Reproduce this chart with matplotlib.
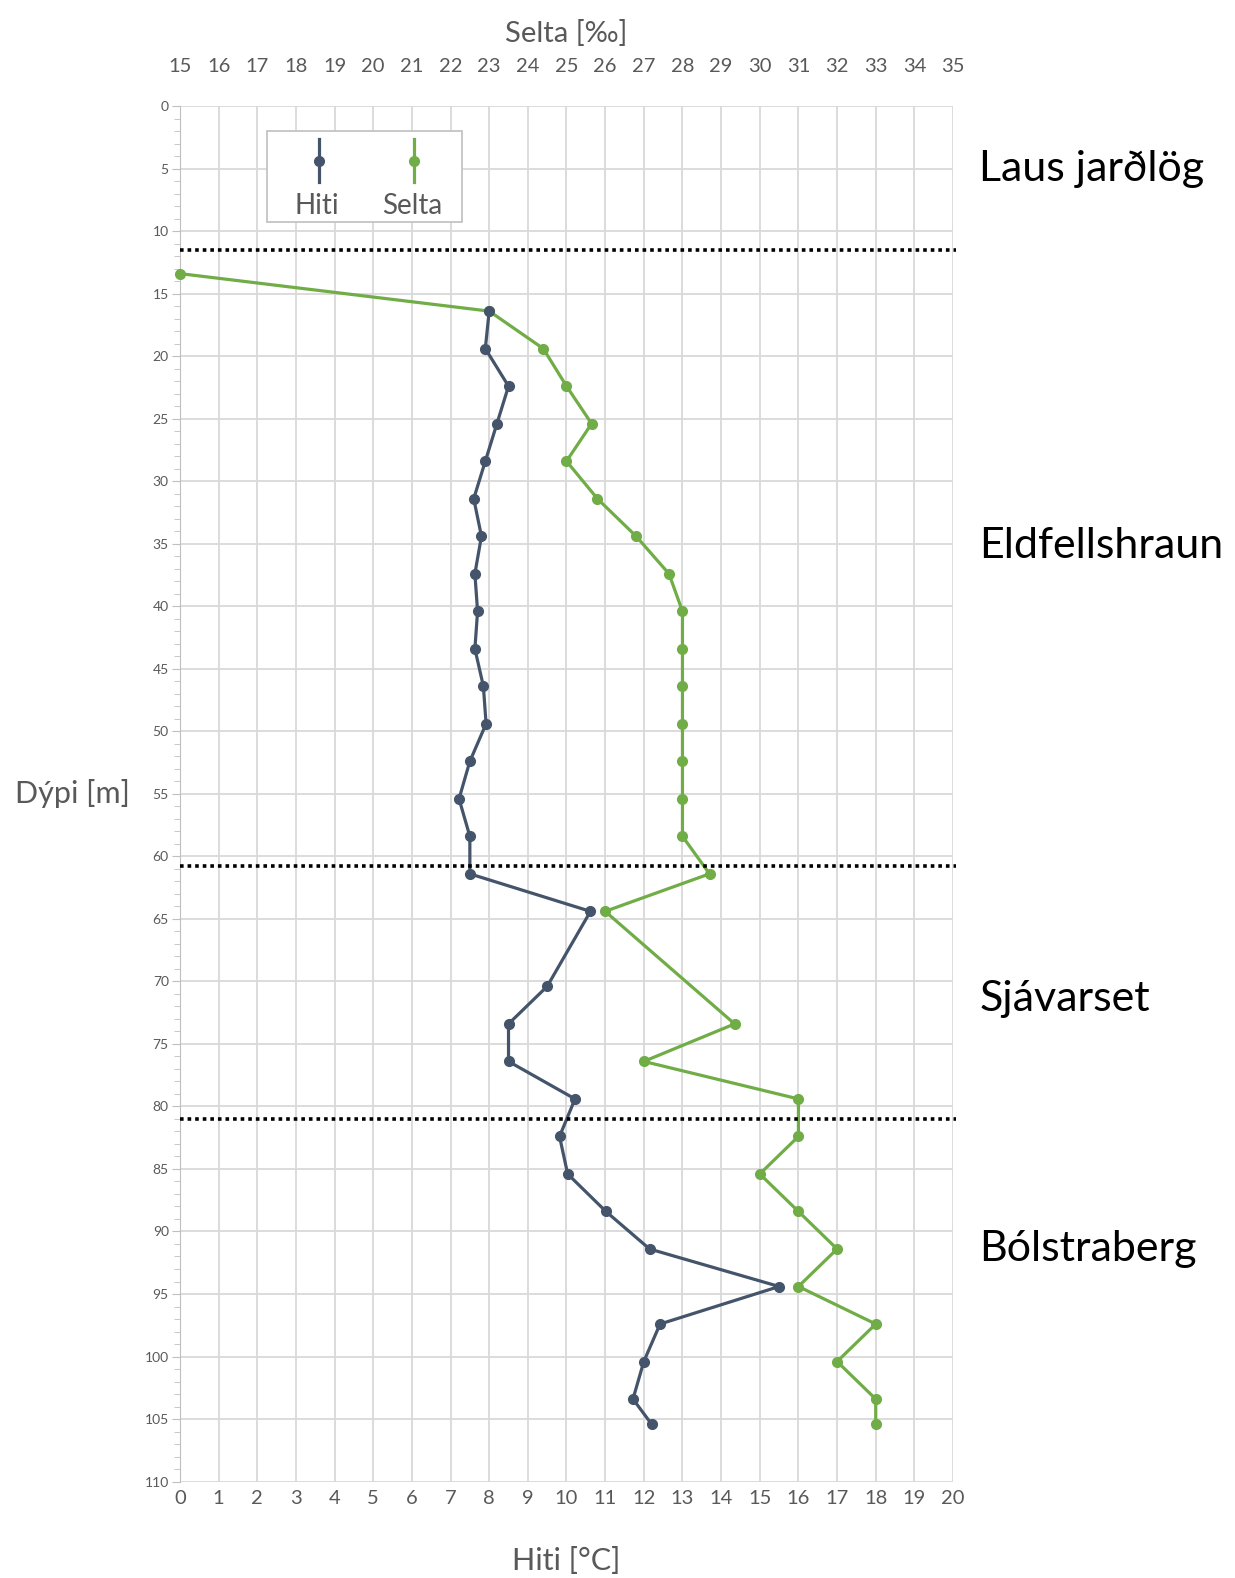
import matplotlib
matplotlib.use("Agg")
import matplotlib.pyplot as plt
from matplotlib import transforms
from matplotlib.lines import Line2D
from matplotlib.patches import Rectangle
from matplotlib.ticker import MultipleLocator

plt.rcParams['font.family'] = ['Lato', 'DejaVu Sans']

# Hitamæling í borholu
dypi_hiti = [16.4, 19.4, 22.4, 25.4, 28.4, 31.4, 34.4, 37.4, 40.4, 43.4, 46.4, 49.4,
             52.4, 55.4, 58.4, 61.4, 64.4, 70.4, 73.4, 76.4, 79.4, 82.4, 85.4, 88.4,
             91.4, 94.4, 97.4, 100.4, 103.4, 105.4]
hiti = [8.0, 7.9, 8.5, 8.2, 7.9, 7.6, 7.8, 7.63, 7.7, 7.63, 7.85, 7.92,
        7.5, 7.22, 7.5, 7.5, 10.62, 9.5, 8.5, 8.5, 10.22, 9.82, 10.03, 11.02,
        12.15, 15.5, 12.42, 12.0, 11.72, 12.2]

# Seltumæling
dypi_selta = [13.4, 16.4, 19.4, 22.4, 25.4, 28.4, 31.4, 34.4, 37.4, 40.4, 43.4, 46.4,
              49.4, 52.4, 55.4, 58.4, 61.4, 64.4, 73.4, 76.4, 79.4, 82.4, 85.4, 88.4,
              91.4, 94.4, 97.4, 100.4, 103.4, 105.4]
selta = [15.0, 23.0, 24.4, 25.0, 25.65, 25.0, 25.8, 26.8, 27.65, 28.0, 28.0, 28.0,
         28.0, 28.0, 28.0, 28.0, 28.7, 26.0, 29.35, 27.0, 31.0, 31.0, 30.0, 31.0,
         32.0, 31.0, 33.0, 32.0, 33.0, 33.0]

# Jarðlagamörk og heiti laga
skil = [11.5, 60.8, 81.0]
log_heiti = ["Laus jarðlög", "Eldfellshraun", "Sjávarset", "Bólstraberg"]
log_dypi = [5.0, 35.2, 71.4, 91.4]

lit_hiti = "#44546A"
lit_selta = "#70AD47"
grar = "#595959"
grid_lit = "#D9D9D9"

fig = plt.figure(figsize=(12.35, 15.78), dpi=100)
ax = fig.add_axes([0.1457, 0.0611, 0.6260, 0.8717])
ax2 = ax.twiny()

ax.set_xlim(0, 20)
ax.set_ylim(110, 0)
ax2.set_xlim(15, 35)

ax.xaxis.set_major_locator(MultipleLocator(1))
ax2.xaxis.set_major_locator(MultipleLocator(1))
ax.yaxis.set_major_locator(MultipleLocator(5))
ax.yaxis.set_minor_locator(MultipleLocator(1))

ax.grid(True, which="major", color=grid_lit, lw=1.3, zorder=0)
ax.set_axisbelow(True)

for s in ["top", "right", "bottom"]:
    ax.spines[s].set_visible(False)
for s in ax2.spines.values():
    s.set_visible(False)
ax.spines["left"].set_color("#BFBFBF")

ax.tick_params(axis="x", length=0, labelsize=14.5, labelcolor=grar, pad=6)
ax2.tick_params(axis="x", length=0, labelsize=14.5, labelcolor=grar, pad=22)
ax.tick_params(axis="y", which="major", length=6, color="#BFBFBF", labelsize=10,
               labelcolor=grar, pad=2)
ax.tick_params(axis="y", which="minor", length=4, color="#BFBFBF")

# Selta á efri ás, teiknuð í sama ás svo hitinn liggi ofan á
blend = transforms.blended_transform_factory(ax2.transData, ax.transData)
ax.plot(selta, dypi_selta, color=lit_selta, lw=2.3, marker="o", ms=7,
        transform=blend, zorder=3, clip_on=False)
ax.plot(hiti, dypi_hiti, color=lit_hiti, lw=2.3, marker="o", ms=7,
        zorder=4, clip_on=False)

for d in skil:
    ax.axhline(d, xmax=1.004, color="black", lw=2.6, ls=(0, (1, 1.1)), zorder=5,
               clip_on=False)

for nafn, d in zip(log_heiti, log_dypi):
    ax.text(1.034, d, nafn, transform=ax.get_yaxis_transform(), fontsize=31,
            va="center", ha="left", color="black")

ax.set_xlabel("Hiti [°C]", fontsize=22, color=grar, labelpad=29)
ax2.set_xlabel("Selta [‰]", fontsize=21, color=grar, labelpad=12)
ax.set_ylabel("Dýpi [m]", fontsize=22, color=grar, rotation=0, va="center", ha="center")
ax.yaxis.set_label_coords(-0.139, 0.5)

# Skýringar í Excel-stíl
ax.add_patch(Rectangle((0.113, 0.916), 0.252, 0.066, transform=ax.transAxes,
                       facecolor="white", edgecolor="#BFBFBF", lw=1.2, zorder=6))
for xh, lit, txt in [(0.180, lit_hiti, "Hiti"), (0.303, lit_selta, "Selta")]:
    ax.add_line(Line2D([xh, xh], [0.945, 0.976], transform=ax.transAxes,
                       color=lit, lw=2.3, zorder=7))
    ax.add_line(Line2D([xh], [0.960], transform=ax.transAxes, color=lit,
                       marker="o", ms=7, zorder=7))
    ax.text(xh - 0.003, 0.927, txt, transform=ax.transAxes, fontsize=20,
            color=grar, ha="center", va="center", zorder=7)

fig.savefig("out.png", dpi=100)
